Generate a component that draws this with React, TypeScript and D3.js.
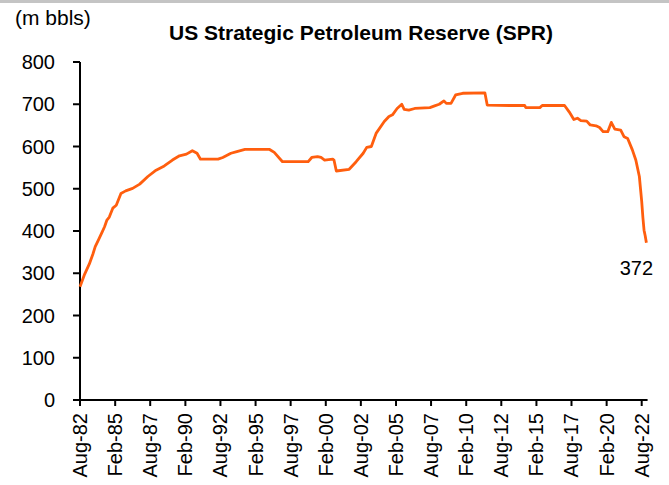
import React from "react";
import * as d3 from "d3";

// ---- data (m bbls) ----
const dates: string[] = [
  "1982-08","1982-12","1983-04","1983-07","1983-09","1983-12","1984-03","1984-05","1984-07","1984-09",
  "1984-12","1985-03","1985-07","1985-11","1986-05","1986-11","1987-06","1988-01","1988-08","1989-03",
  "1989-09","1990-03","1990-08","1990-12","1991-03","1992-06","1992-10","1993-05","1993-10","1994-05",
  "1996-02","1996-06","1997-01","1998-11","1999-02","1999-07","1999-10","2000-01","2000-08","2000-09",
  "2000-11","2001-10","2002-04","2002-10","2003-01","2003-05","2003-09","2004-04","2004-08","2004-11",
  "2005-03","2005-07","2005-09","2006-01","2006-06","2007-07","2007-11","2008-03","2008-07","2008-09",
  "2009-01","2009-05","2009-11","2011-06","2011-08","2013-03","2014-04","2014-05","2015-05","2015-07",
  "2017-02","2017-06","2017-10","2018-01","2018-04","2018-09","2018-12","2019-05","2019-08","2019-11",
  "2020-03","2020-06","2020-09","2021-02","2021-05","2021-08","2021-12","2022-03","2022-06","2022-07",
  "2022-08","2022-09","2022-10","2022-11","2022-12",
];
const reserve: number[] = [
  268,298,322,345,363,380,398,410,426,433,
  454,461,489,495,501,511,529,544,554,568,
  578,582,590,584,570,570,574,584,588,593,
  593,586,564,564,574,576,574,568,570,568,
  542,546,564,584,598,600,631,659,671,675,
  690,700,688,686,690,692,696,700,708,702,
  702,722,726,727,698,697,697,692,692,697,
  697,682,664,667,661,660,651,649,645,635,
  635,657,641,639,623,619,592,568,529,500,
  470,432,402,388,372,
];
const xTickLabels: string[] = [
  "Aug-82","Feb-85","Aug-87","Feb-90","Aug-92","Feb-95","Aug-97","Feb-00","Aug-02",
  "Feb-05","Aug-07","Feb-10","Aug-12","Feb-15","Aug-17","Feb-20","Aug-22",
];
const yTicks: number[] = [0, 100, 200, 300, 400, 500, 600, 700, 800];
const title = "US Strategic Petroleum Reserve (SPR)";
const unitLabel = "(m bbls)";
const endLabel = "372";

const W = 669;
const H = 485;
const FONT = "'Liberation Sans', Arial, Helvetica, sans-serif";
const LINE = "#FF5E0E";

export default function App() {
  const parseMonth = d3.timeParse("%Y-%m");
  const parseTick = d3.timeParse("%b-%y");
  const data = dates.map((d, i) => ({ date: parseMonth(d) as Date, value: reserve[i] }));
  const tickDates = xTickLabels.map((t) => parseTick(t) as Date);

  const x = d3
    .scaleTime()
    .domain([tickDates[0], tickDates[tickDates.length - 1]])
    .range([80, 641.7]);
  const y = d3.scaleLinear().domain([0, 800]).range([400, 62]);

  const line = d3
    .line<{ date: Date; value: number }>()
    .x((d) => x(d.date))
    .y((d) => y(d.value));

  const last = data[data.length - 1];
  const axisEnd = x(d3.timeMonth.offset(last.date, 1));

  return (
    <svg
      width={W}
      height={H}
      style={{ position: "absolute", left: 0, top: 0, background: "#fff" }}
      fontFamily={FONT}
    >
      <rect x={0} y={0} width={W} height={H} fill="#fff" />
      <rect x={0} y={0} width={W} height={3} fill="#c4c4c4" />

      <text x={361} y={40} textAnchor="middle" fontSize={21} fontWeight="bold" fill="#000">
        {title}
      </text>
      <text x={15} y={25} fontSize={21} fill="#000">
        {unitLabel}
      </text>

      {/* y axis */}
      <line x1={80} x2={80} y1={y(800)} y2={y(0)} stroke="#000" strokeWidth={2} />
      {yTicks.map((t) => (
        <g key={t}>
          <line x1={73} x2={80} y1={y(t)} y2={y(t)} stroke="#000" strokeWidth={2} />
          <text x={55} y={y(t)} dy="0.35em" textAnchor="end" fontSize={20} fill="#000">
            {t}
          </text>
        </g>
      ))}

      {/* x axis */}
      <line x1={79} x2={axisEnd} y1={y(0)} y2={y(0)} stroke="#000" strokeWidth={2} />
      {tickDates.map((d, i) => (
        <g key={xTickLabels[i]} transform={`translate(${x(d)},${y(0)})`}>
          <line x1={0} x2={0} y1={-1} y2={6} stroke="#000" strokeWidth={2} />
          <text
            transform="translate(0,13) rotate(-90)"
            dy="0.35em"
            textAnchor="end"
            fontSize={20}
            fill="#000"
          >
            {xTickLabels[i]}
          </text>
        </g>
      ))}

      <path d={line(data) || ""} fill="none" stroke={LINE} strokeWidth={2.8} strokeLinejoin="round" />

      <text x={x(last.date) - 10} y={y(last.value) + 32} textAnchor="middle" fontSize={20} fill="#000">
        {endLabel}
      </text>
    </svg>
  );
}
